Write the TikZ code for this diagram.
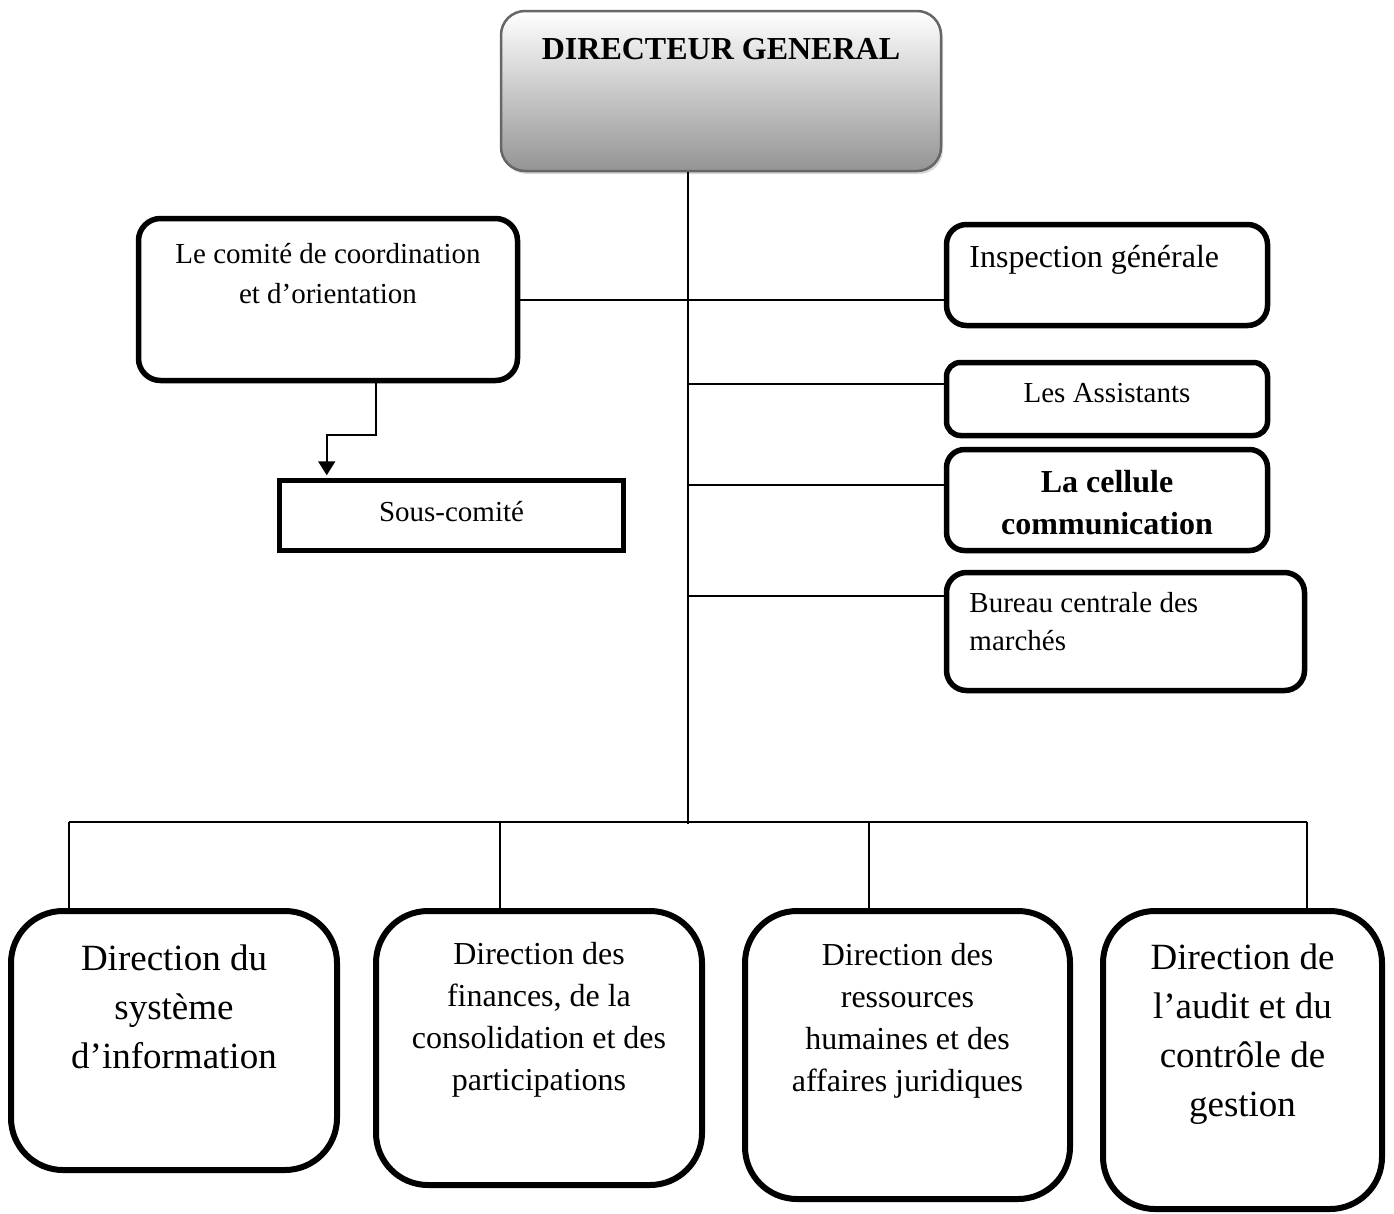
\documentclass[tikz,border=0pt]{standalone}
\usepackage{fontspec}
\setmainfont{Liberation Serif}
\usetikzlibrary{arrows.meta, positioning, shadows, calc}

\begin{document}
\begin{tikzpicture}[
    x=1pt, y=-1pt,
    >=Triangle,
    % Define styles for the elements
    head box/.style={
        rectangle,
        rounded corners=24pt,
        draw=black!60,          % grey outline
        line width=2.5pt,
        top color=white,
        bottom color=black!42,  % grey towards the bottom
        minimum width=440pt,
        minimum height=160pt,
        drop shadow={opacity=0.3, shadow xshift=2pt, shadow yshift=-3pt}
    },
    org box/.style={
        rectangle,
        rounded corners=#1,
        draw=black,
        line width=5.5pt,
        inner sep=0pt,
        align=center
    },
    org box/.default=20pt,
    dir box/.style={
        rectangle,
        rounded corners=52pt,
        draw=black,
        line width=6pt
    },
    box text/.style={
        inner sep=0pt,
        align=#1
    },
    box text/.default=center,
    small font/.style={font=\fontsize{29}{40}\selectfont},
    mid font/.style={font=\fontsize{32}{42}\selectfont},
    big font/.style={font=\fontsize{37}{49}\selectfont},
    link line/.style={
        draw=black,
        line width=2pt
    }
]
    \useasboundingbox (0,0) rectangle (1394,1213);

    % --- Head of the chart ---
    \node[head box] (dg) at (721,91) {};
    \node[box text, below=28pt of dg.north, font=\fontsize{32}{42}\selectfont\bfseries] (dg-t) {DIRECTEUR GENERAL};

    % --- Left: committee and sub-committee ---
    \node[org box=22pt, minimum width=379pt, minimum height=162pt] (comite) at (328,299.5) {};
    \node[box text, small font, below=27pt of comite.north] (comite-t) {Le comité de coordination\\et d’orientation};

    \node[org box=0pt, minimum width=344pt, minimum height=70pt] (sous) at (451.5,515.5) {};
    \node[box text, small font] (sous-t) at ($(sous.center)+(0,-4)$) {Sous-comité};

    % --- Right: staff units ---
    \node[org box=20pt, minimum width=321pt, minimum height=101pt] (insp) at (1107,275) {};
    \node[box text=left, anchor=north west, font=\fontsize{32}{42}\selectfont] (insp-t)
        at ($(insp.north west)+(25.5,23.5)$) {Inspection générale};

    \node[org box=14pt, minimum width=321pt, minimum height=73pt] (assist) at (1107,399) {};
    \node[box text, small font] (assist-t) at ($(assist.center)+(0,-6)$) {Les Assistants};

    \node[org box=18pt, minimum width=321pt, minimum height=101pt] (cellule) at (1107,500) {};
    \node[box text, font=\fontsize{32}{42}\selectfont\bfseries] (cellule-t)
        at ($(cellule.center)+(0,3)$) {La cellule\\communication};

    \node[org box=20pt, minimum width=358pt, minimum height=118pt] (bureau) at (1125.5,631.5) {};
    \node[box text=left, anchor=north west, font=\fontsize{29}{38}\selectfont] (bureau-t)
        at ($(bureau.north west)+(25.5,22.5)$) {Bureau centrale des\\marchés};

    % --- Bottom: directions ---
    \node[dir box, minimum width=326pt, minimum height=259pt] (d1) at (174,1040.5) {};
    \node[box text, big font, below=37pt of d1.north] (d1-t) {Direction du\\système\\d’information};

    \node[dir box, minimum width=326pt, minimum height=274pt] (d2) at (539,1048) {};
    \node[box text, mid font, below=34pt of d2.north] (d2-t) {Direction des\\finances, de la\\consolidation et des\\participations};

    \node[dir box, minimum width=325pt, minimum height=288pt] (d3) at (907.5,1055) {};
    \node[box text, mid font, below=35pt of d3.north] (d3-t) {Direction des\\ressources\\humaines et des\\affaires juridiques};

    \node[dir box, minimum width=279pt, minimum height=298pt] (d4) at (1242.5,1060) {};
    \node[box text, big font, below=36pt of d4.north] (d4-t) {Direction de\\l’audit et du\\contrôle de\\gestion};

    % --- Connections ---
    % main trunk
    \coordinate (hub) at (688,824);
    \draw[link line] (dg.south -| hub) -- (hub);

    % committee to inspection, across the trunk
    \draw[link line] (comite.east) -- (comite.east -| insp.west);

    % committee to sub-committee
    \coordinate (bend) at (376,435);
    \draw[link line, -{Triangle[width=17pt, length=14pt]}, shorten >=2.5pt]
        (bend |- comite.south) -- (bend) -| ($(sous.north west)+(50,0)$);

    % trunk to the staff units
    \foreach \b/\y in {assist/384, cellule/485, bureau/596} {
        \coordinate (j-\b) at (688,\y);
        \draw[link line] (j-\b) -- (j-\b -| \b.west);
    }

    % bus to the directions
    \foreach \n/\x in {1/69, 2/500, 3/869, 4/1307} {
        \coordinate (t\n) at (\x,822);
        \draw[link line] (t\n) -- (t\n |- d\n.north);
    }
    \draw[link line] (t1) -- (t4);

\end{tikzpicture}
\end{document}
